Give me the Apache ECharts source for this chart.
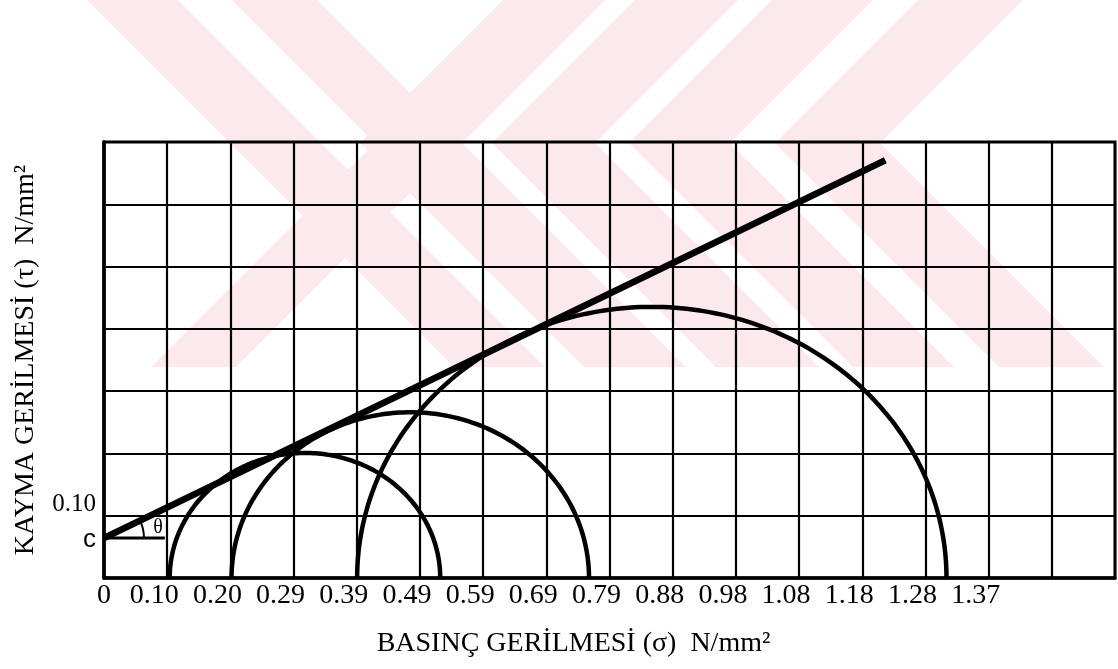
<!DOCTYPE html>
<html>
<head>
<meta charset="utf-8">
<script src="https://cdn.jsdelivr.net/npm/echarts@6/dist/echarts.min.js"></script>
<style>
  html, body { margin: 0; padding: 0; background: #fff; }
  #chart { width: 1118px; height: 669px; }
</style>
</head>
<body>
<div id="chart"></div>
<script>
// One grid step on both axes: 1 kg/cm² expressed in N/mm²
const STEP = 0.0981;

const xTickLabels = ['0', '0.10', '0.20', '0.29', '0.39', '0.49', '0.59', '0.69',
                     '0.79', '0.88', '0.98', '1.08', '1.18', '1.28', '1.37'];
const yTickLabels = ['', '0.10'];

// Mohr circles: minor / major principal stress and the peak shear stress (N/mm²)
const circleSigma3 = [0.102, 0.198, 0.393];
const circleSigma1 = [0.522, 0.753, 1.308];
const circlePeakTau = [0.197, 0.261, 0.427];

// Failure envelope: starts at the cohesion intercept c on the τ axis
const cohesion = 0.063;
const envelopeEnd = [1.213, 0.658];
// length of the horizontal reference used to mark the angle θ
const thetaBaseEnd = 0.0945;

const SERIF = '"Liberation Serif", "Times New Roman", serif';
const SANS = '"Liberation Sans", Arial, sans-serif';
const PINK = '#fce9ed';

const chart = echarts.init(document.getElementById('chart'), null, { renderer: 'canvas' });

// Faint background emblem made of diagonal bands.
// Each band: [x of its left edge at the fold line, width, direction above the fold (+1 = "\", -1 = "/"), folds back below?]
const EMBLEM_FOLD = 143, EMBLEM_BOTTOM = 367;
const emblemBands = [
  [230, 91, 1, false],
  [375, 85, 1, true], [360, 102, -1, true],
  [492, 103, -1, true], [629, 101, -1, true], [775, 105, -1, true]
];
function emblemPolygons() {
  const polys = [];
  const h1 = EMBLEM_FOLD, h2 = EMBLEM_BOTTOM - EMBLEM_FOLD;
  emblemBands.forEach(([x0, w, d, folds]) => {
    polys.push([[x0 - d * h1, 0], [x0 - d * h1 + w, 0], [x0 + w, h1], [x0, h1]]);
    const d2 = folds ? -d : d;
    polys.push([[x0, h1], [x0 + w, h1], [x0 + d2 * h2 + w, EMBLEM_BOTTOM], [x0 + d2 * h2, EMBLEM_BOTTOM]]);
  });
  return polys;
}

const option = {
  backgroundColor: '#fff',
  animation: false,
  graphic: {
    elements: emblemPolygons().map(pts => ({
      type: 'polygon',
      z: -100,
      silent: true,
      shape: { points: pts },
      style: { fill: PINK }
    }))
  },
  grid: {
    left: 104, right: 1, top: 142, bottom: 91,
    show: true, borderColor: '#000', borderWidth: 3, backgroundColor: 'transparent'
  },
  xAxis: {
    type: 'value',
    min: 0,
    max: Number((16 * STEP).toFixed(4)),
    interval: STEP,
    name: 'BASINÇ GERİLMESİ (σ)  N/mm²',
    nameLocation: 'middle',
    nameGap: 52,
    nameTextStyle: { fontFamily: SERIF, fontSize: 28, color: '#000', padding: [0, 72, 0, 0] },
    axisLine: { show: true, lineStyle: { color: '#000', width: 3.5 } },
    axisTick: { show: false },
    splitLine: { show: true, lineStyle: { color: '#000', width: 2.2 } },
    axisLabel: {
      margin: 4,
      color: '#000',
      formatter: v => {
        const k = Math.round(v / STEP);
        const t = xTickLabels[k];
        if (!t) return '';
        return k === 0 ? '{z|' + t + '}' : '{s|' + t + '}';
      },
      rich: {
        z: { fontFamily: SERIF, fontSize: 28, color: '#000' },
        s: { fontFamily: SERIF, fontSize: 28, color: '#000', padding: [0, 26, 0, 0] }
      }
    }
  },
  yAxis: {
    type: 'value',
    min: 0,
    max: Number((7 * STEP).toFixed(4)),
    interval: STEP,
    name: 'KAYMA GERİLMESİ (τ)  N/mm²',
    nameLocation: 'middle',
    nameRotate: 90,
    nameGap: 64,
    nameTextStyle: { fontFamily: SERIF, fontSize: 28, color: '#000' },
    axisLine: { show: true, lineStyle: { color: '#000', width: 3.5 } },
    axisTick: { show: false },
    splitLine: { show: true, lineStyle: { color: '#000', width: 2.2 } },
    axisLabel: {
      margin: 8,
      color: '#000',
      formatter: v => {
        const t = yTickLabels[Math.round(v / STEP)];
        return t ? '{s|' + t + '}' : '';
      },
      rich: {
        s: { fontFamily: SERIF, fontSize: 25, color: '#000', padding: [0, 0, 22, 0] }
      }
    }
  },
  series: [
    {
      // Mohr circles (upper halves)
      type: 'custom',
      z: 3,
      data: circleSigma3.map((s3, i) => [s3, circleSigma1[i], circlePeakTau[i]]),
      encode: { x: [0, 1], y: 2 },
      renderItem: (params, api) => {
        const s3 = api.value(0), s1 = api.value(1), peak = api.value(2);
        const mid = (s3 + s1) / 2, r = (s1 - s3) / 2;
        const pts = [];
        for (let i = 0; i <= 160; i++) {
          const a = Math.PI * i / 160;
          pts.push(api.coord([mid - r * Math.cos(a), peak * Math.sin(a)]));
        }
        return {
          type: 'polyline',
          shape: { points: pts },
          style: { stroke: '#000', lineWidth: 4.5, fill: null }
        };
      }
    },
    {
      // failure envelope
      type: 'line',
      z: 4,
      symbol: 'none',
      data: [[0, cohesion], envelopeEnd],
      lineStyle: { color: '#000', width: 6.5 }
    },
    {
      // cohesion intercept and friction angle marker
      type: 'custom',
      z: 5,
      data: [[0, cohesion, thetaBaseEnd]],
      encode: { x: 0, y: 1 },
      renderItem: (params, api) => {
        const o = api.coord([api.value(0), api.value(1)]);
        const e = api.coord([api.value(2), api.value(1)]);
        const far = api.coord(envelopeEnd);
        const ang = Math.atan2(far[1] - o[1], far[0] - o[0]);
        return {
          type: 'group',
          children: [
            { type: 'line', shape: { x1: o[0], y1: o[1], x2: e[0], y2: e[1] },
              style: { stroke: '#000', lineWidth: 3 } },
            { type: 'arc', shape: { cx: o[0], cy: o[1], r: 40, startAngle: ang, endAngle: 0, clockwise: true },
              style: { stroke: '#000', lineWidth: 2, fill: null } },
            { type: 'text', x: o[0] + 54, y: o[1] - 10,
              style: { text: 'θ', font: '20px ' + SERIF, fill: '#000', align: 'center', verticalAlign: 'middle' } },
            { type: 'text', x: o[0] - 8, y: o[1] + 2,
              style: { text: 'c', font: '26px ' + SANS, fill: '#000', align: 'right', verticalAlign: 'middle' } }
          ]
        };
      }
    }
  ]
};

chart.setOption(option);
</script>
</body>
</html>
